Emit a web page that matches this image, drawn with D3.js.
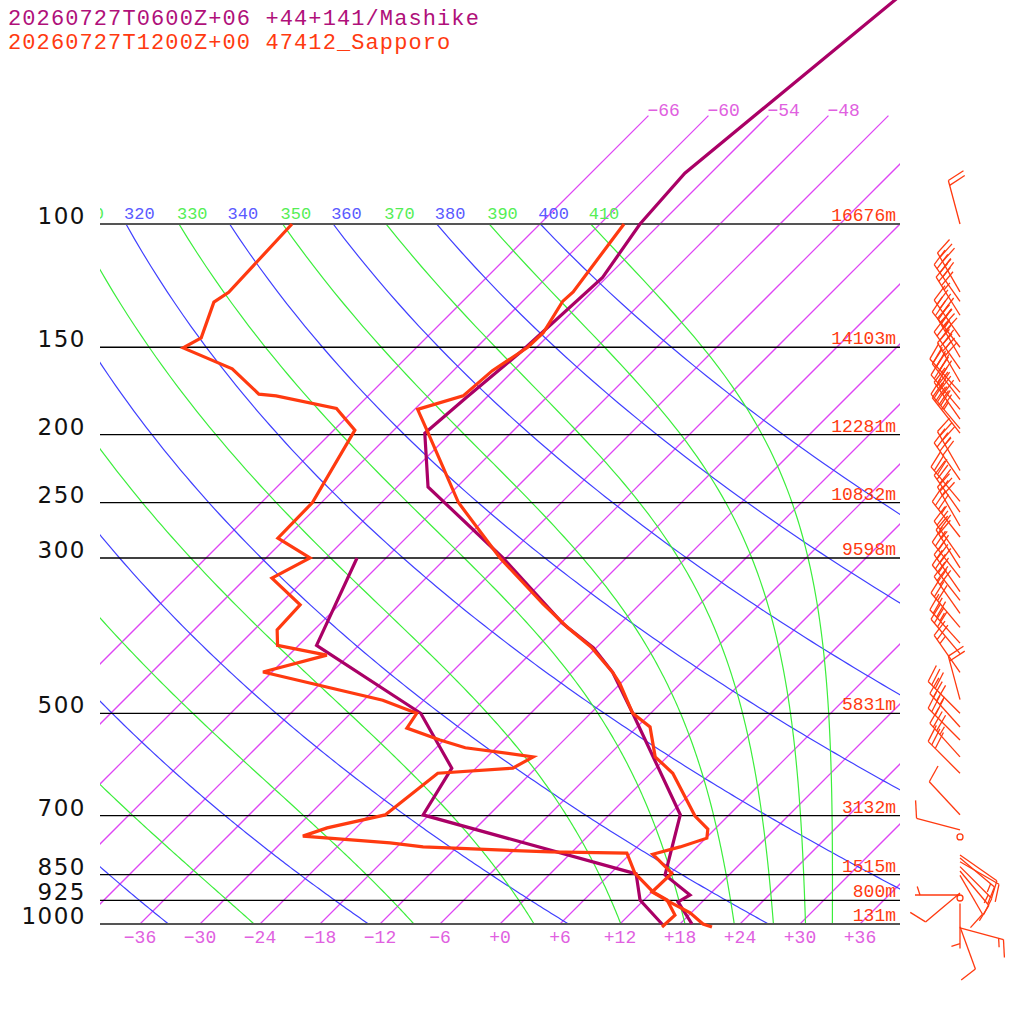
<!DOCTYPE html>
<html>
<head>
<meta charset="utf-8">
<script src="https://cdn.jsdelivr.net/npm/d3@7"></script>
<style>
  body { margin: 0; background: #fff; }
  svg { display: block; }
</style>
</head>
<body>
<svg id="chart" width="1024" height="1024"></svg>
<script>
// titles
const titleMashike = "20260727T0600Z+06 +44+141/Mashike";
const titleSapporo = "20260727T1200Z+00 47412_Sapporo";

// isobars and their heights (Sapporo)
const levels = [1000, 925, 850, 700, 500, 300, 250, 200, 150, 100];
const heights = ["131m", "800m", "1515m", "3132m", "5831m", "9598m", "10832m", "12281m", "14103m", "16676m"];

// background line sets
const isotherms = d3.range(-66, 37, 6);
const bottomIsoLabels = d3.range(-36, 37, 6);
const topIsoLabels = [-66, -60, -54, -48];
const dryThetas = d3.range(240, 401, 20);     // blue
const moistThetaEs = d3.range(250, 411, 20);  // green
const thetaLabels = d3.range(300, 411, 10);

// Mashike (model) profile
const mashikeTP = [1000, 930, 909, 851, 698, 500, 437, 403, 372, 300, 237.5, 199, 176.7, 151.5, 119.2, 100, 84.6, 45];
const mashikeT  = [19.2, 15.6, 16.1, 11.6, 7.1, -7.8, -13.9, -18.3, -23.8, -36.3, -50.9, -56.6, -56.0, -55.1, -54.4, -56.0, -56.6, -52.5];
const mashikeDP = [1000, 924, 848, 698.5, 599, 500, 400, 300];
const mashikeTd = [16.2, 11.6, 8.6, -18.6, -20.4, -29.0, -46.2, -50.9];

// Sapporo (radiosonde) profile
const sapporoTP = [1010, 1000, 964, 925, 900, 846, 795, 776, 754, 732, 701, 609, 577, 523, 500, 453, 437, 402, 377, 349, 300, 250, 197, 184, 176, 162, 150, 143, 129, 125, 100];
const sapporoT  = [21.5, 20.3, 17.9, 14.3, 12.0, 12.1, 8.3, 10.3, 12.1, 11.3, 8.7, 2.2, -1.2, -4.7, -7.8, -12.1, -13.9, -18.6, -22.9, -27.7, -36.6, -46.3, -56.7, -59.7, -56.5, -56.1, -54.9, -54.8, -56.0, -55.9, -57.6];
const sapporoDP = [1010, 971, 924, 900, 846, 792, 789, 776, 766, 749, 729, 698.5, 609, 599, 577, 560, 546, 525, 500, 479, 436.5, 413, 400, 380, 350, 320.5, 300, 281, 250, 197, 183.5, 176, 175, 161, 150.3, 145.4, 129.3, 125.2, 100];
const sapporoTd = [16.5, 16.6, 14.3, 12.1, 8.4, 5.6, -2.2, -15.4, -19.1, -28.5, -26.9, -22.4, -21.3, -14.3, -13.4, -21.1, -24.4, -28.9, -29.4, -34.1, -48.9, -44.2, -50.1, -51.7, -51.9, -57.4, -55.6, -60.8, -60.9, -63.9, -67.9, -75.2, -77.1, -82.3, -89.3, -88.5, -90.8, -90.3, -90.8];

// Sapporo winds: pressure, direction (deg), speed (kt)
const windP   = [100, 125, 129, 135, 145, 150, 155, 161, 168, 174, 178, 184, 190, 196, 199, 225, 232, 249, 258, 270, 280, 300, 310, 320, 335, 345, 360, 377, 397, 411, 437, 478, 500, 523, 546, 577, 609, 698, 734, 751, 797, 805, 815, 828, 840, 852, 903, 909, 918, 935, 1009, 1013];
const windDir = [345, 330, 325, 328, 325, 322, 330, 325, 330, 318, 322, 320, 325, 320, 322, 330, 325, 320, 325, 330, 322, 325, 328, 322, 325, 322, 325, 320, 318, 320, 325, 345, 315, 318, 315, 318, 315, 317, 285, 0, 125, 130, 120, 135, 140, 150, 230, 270, 0, 180, 160, 105];
const windSpd = [20, 35, 40, 35, 45, 45, 40, 45, 40, 40, 45, 35, 40, 45, 40, 35, 40, 30, 35, 30, 35, 30, 25, 30, 30, 35, 30, 30, 35, 30, 25, 20, 30, 35, 30, 35, 30, 10, 10, 0, 10, 15, 10, 15, 10, 10, 10, 5, 0, 5, 10, 15];

const colMashike = "rgb(170,0,102)";
const colMashikeText = "rgb(176,16,122)";
const colSapporo = "rgb(255,58,16)";
const colIso = "rgb(222,70,244)";
const colIsoText = "rgb(224,96,224)";
const colDry = "rgb(64,64,255)";
const colMoist = "rgb(60,238,60)";
const mono = "'Liberation Mono', 'DejaVu Sans Mono', monospace";

const svg = d3.select("#chart");

const y = d3.scaleLog().domain([1000, 100]).range([924, 224]);
const xT = d3.scaleLinear().domain([-36, 36]).range([140, 860]);
const skewX = (t, p) => xT(t) + (y(1000) - y(p));

const defs = svg.append("defs");
defs.append("clipPath").attr("id", "clipGrid")
  .append("rect").attr("x", 100).attr("y", 224).attr("width", 800).attr("height", 700);
defs.append("clipPath").attr("id", "clipIso")
  .append("rect").attr("x", 100).attr("y", 100).attr("width", 800).attr("height", 824);
defs.append("clipPath").attr("id", "clipLbl")
  .append("rect").attr("x", 100).attr("y", 0).attr("width", 924).attr("height", 1024);

const skewLine = d3.line().x(d => skewX(d.t, d.p)).y(d => y(d.p));

// saturated equivalent potential temperature (Bolton 1980)
function thetaE(tk, p) {
  const tc = tk - 273.15;
  const es = 6.112 * Math.exp(17.67 * tc / (tc + 243.5));
  if (es > 0.5 * p) return Infinity;
  const r = 622 * es / (p - es);
  return tk * Math.pow(1000 / p, 0.2854 * (1 - 0.00028 * r)) *
    Math.exp((3.376 / tk - 0.00254) * r * (1 + 0.00081 * r));
}
function tempForThetaE(te, p) {
  let lo = 120, hi = 340;
  for (let i = 0; i < 60; i++) {
    const mid = (lo + hi) / 2;
    if (thetaE(mid, p) > te) hi = mid; else lo = mid;
  }
  return (lo + hi) / 2 - 273.15;
}

const pSteps = d3.range(1000, 99.9, -5);

// isotherms
const gIso = svg.append("g").attr("clip-path", "url(#clipIso)");
isotherms.forEach(t => {
  gIso.append("path")
    .attr("d", skewLine([{ t: t, p: 1000 }, { t: t, p: 70 }]))
    .style("fill", "none").style("stroke", colIso)
    .style("stroke-width", "1.25px");
});

// dry adiabats
const gAd = svg.append("g").attr("clip-path", "url(#clipGrid)");
gAd.selectAll("path.dry").data(dryThetas).join("path").attr("class", "dry")
  .attr("d", th => skewLine(pSteps.map(p => ({ p: p, t: th * Math.pow(p / 1000, 0.2857) - 273.15 }))))
  .style("fill", "none").style("stroke", colDry)
  .style("stroke-width", "1.2px");

// moist (pseudo) adiabats
gAd.selectAll("path.moist").data(moistThetaEs).join("path").attr("class", "moist")
  .attr("d", te => skewLine(pSteps.map(p => ({ p: p, t: tempForThetaE(te, p) }))))
  .style("fill", "none").style("stroke", colMoist)
  .style("stroke-width", "1.2px");

// isobars
svg.append("g").selectAll("line").data(levels).join("line")
  .attr("x1", 100).attr("x2", 900)
  .attr("y1", p => y(p)).attr("y2", p => y(p))
  .style("stroke", p => (p === 1000 || p === 100) ? "#555" : "#000")
  .style("stroke-width", p => (p === 1000 || p === 100) ? "1.8px" : "1.3px");

// pressure labels
svg.append("g").selectAll("text").data(levels).join("text")
  .attr("x", 86).attr("y", p => y(p))
  .attr("text-anchor", "end")
  .attr("font-family", "'DejaVu Sans', sans-serif").attr("font-size", 23)
  .attr("letter-spacing", 1.5)
  .attr("fill", "#111")
  .text(p => p);

// height labels
svg.append("g").selectAll("text").data(levels).join("text")
  .attr("x", 896).attr("y", p => y(p) - 3)
  .attr("text-anchor", "end")
  .attr("font-family", mono).attr("font-size", 18)
  .attr("fill", colSapporo)
  .text((p, i) => heights[i]);

// isotherm labels
const fmtT = t => (t < 0 ? "\u2212" + Math.abs(t) : "+" + t);
svg.append("g").selectAll("text").data(bottomIsoLabels).join("text")
  .attr("x", t => xT(t)).attr("y", 943)
  .attr("text-anchor", "middle")
  .attr("font-family", mono).attr("font-size", 18)
  .attr("fill", colIsoText)
  .text(fmtT);
svg.append("g").selectAll("text").data(topIsoLabels).join("text")
  .attr("x", t => skewX(t, 70) - 1).attr("y", 116)
  .attr("font-family", mono).attr("font-size", 18)
  .attr("fill", colIsoText)
  .text(fmtT);

// theta labels at 100 hPa (clipped at the left edge of the diagram)
const thFont = 17, thCharW = thFont * 0.6;
const thetaLabelPos = thetaLabels.map(th => {
  let x = (th % 20 === 0
      ? skewX(th * Math.pow(0.1, 0.2857) - 273.15, 100)
      : skewX(tempForThetaE(th, 100), 100)) - 2;
  let s = String(th);
  while (s.length > 1 && x + thCharW < 100) { s = s.slice(1); x += thCharW; }
  return { th: th, x: x, s: s };
}).filter(d => d.x + thCharW > 100);
svg.append("g").attr("clip-path", "url(#clipLbl)")
  .selectAll("text").data(thetaLabelPos).join("text")
  .attr("x", d => d.x).attr("y", 219)
  .attr("font-family", mono).attr("font-size", thFont)
  .attr("fill", d => d.th % 20 === 0 ? "rgb(90,90,255)" : "rgb(85,238,85)")
  .text(d => d.s);

// profiles
function drawProfile(ps, ts, color) {
  svg.append("path")
    .attr("d", skewLine(ps.map((p, i) => ({ p: p, t: ts[i] }))))
    .style("fill", "none").style("stroke", color)
    .style("stroke-width", "3.2px").style("stroke-linejoin", "miter");
}
drawProfile(mashikeTP, mashikeT, colMashike);
drawProfile(mashikeDP, mashikeTd, colMashike);
drawProfile(sapporoDP, sapporoTd, colSapporo);
drawProfile(sapporoTP, sapporoT, colSapporo);

// wind barbs
const gW = svg.append("g").style("stroke", colSapporo).style("fill", "none").style("stroke-width", "1.3px");
const staffLen = 45, barbLen = 18, barbGap = 5, rot = 72 * Math.PI / 180;
windP.forEach((p, i) => {
  const bx = 960, by = y(p);
  const spd = Math.round(windSpd[i] / 5) * 5;
  if (spd === 0) {
    gW.append("circle").attr("cx", bx).attr("cy", by).attr("r", 3);
    return;
  }
  const a = windDir[i] * Math.PI / 180;
  const ux = Math.sin(a), uy = -Math.cos(a);
  const tx = bx + ux * staffLen, ty = by + uy * staffLen;
  gW.append("line").attr("x1", bx).attr("y1", by).attr("x2", tx).attr("y2", ty);
  const vx = ux * Math.cos(rot) - uy * Math.sin(rot);
  const vy = ux * Math.sin(rot) + uy * Math.cos(rot);
  let rest = spd, k = 0;
  while (rest >= 50) {
    const px = tx - ux * k * barbGap, py = ty - uy * k * barbGap;
    const qx = px - ux * barbGap * 1.6, qy = py - uy * barbGap * 1.6;
    gW.append("path").style("fill", colSapporo)
      .attr("d", `M${px},${py}L${px + vx * barbLen},${py + vy * barbLen}L${qx},${qy}Z`);
    rest -= 50; k += 2;
  }
  while (rest >= 10) {
    const px = tx - ux * k * barbGap, py = ty - uy * k * barbGap;
    gW.append("line").attr("x1", px).attr("y1", py)
      .attr("x2", px + vx * barbLen).attr("y2", py + vy * barbLen);
    rest -= 10; k += 1;
  }
  if (rest >= 5) {
    if (k === 0) k = 1;
    const px = tx - ux * k * barbGap, py = ty - uy * k * barbGap;
    gW.append("line").attr("x1", px).attr("y1", py)
      .attr("x2", px + vx * barbLen / 2).attr("y2", py + vy * barbLen / 2);
  }
});

// titles
svg.append("text").attr("x", 8).attr("y", 25)
  .attr("font-family", mono).attr("font-size", 22).attr("letter-spacing", 1.1)
  .attr("fill", colMashikeText).text(titleMashike);
svg.append("text").attr("x", 8).attr("y", 49)
  .attr("font-family", mono).attr("font-size", 22).attr("letter-spacing", 1.1)
  .attr("fill", colSapporo).text(titleSapporo);
</script>
</body>
</html>
